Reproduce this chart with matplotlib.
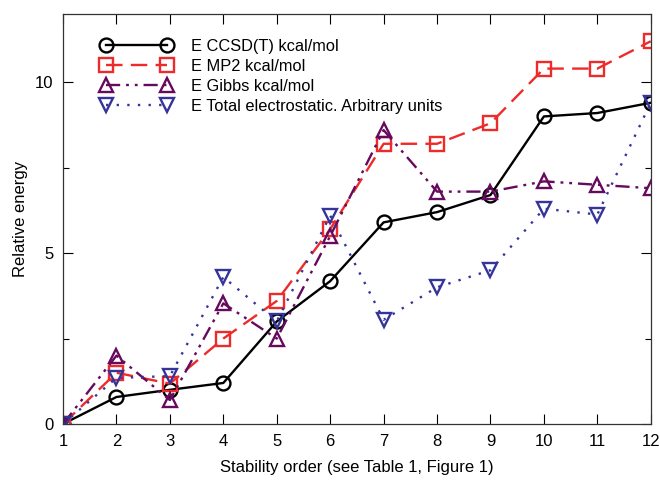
import matplotlib
matplotlib.use("Agg")
import matplotlib.pyplot as plt
from matplotlib.ticker import MultipleLocator

plt.rcParams['font.family'] = ['Liberation Sans', 'DejaVu Sans']

order = list(range(1, 13))
ccsd = [0, 0.79, 1.0, 1.2, 3.0, 4.18, 5.9, 6.2, 6.7, 9.0, 9.1, 9.4]
mp2 = [0, 1.5, 1.18, 2.5, 3.6, 5.7, 8.2, 8.2, 8.8, 10.4, 10.4, 11.2]
gibbs = [0, 2.0, 0.7, 3.53, 2.5, 5.5, 8.6, 6.8, 6.8, 7.1, 7.0, 6.9]
elec = [0, 1.35, 1.4, 4.3, 3.0, 6.1, 3.05, 4.0, 4.5, 6.3, 6.13, 9.4]

labels = ["E CCSD(T) kcal/mol", "E MP2 kcal/mol", "E Gibbs kcal/mol",
          "E Total electrostatic. Arbitrary units"]

fig = plt.figure(figsize=(6.6, 4.8), dpi=100)
ax = fig.add_axes([0.0955, 0.1167, 0.8905, 0.8543])

ax.plot(order, ccsd, color='black', lw=1.7, ls='-', marker='o', ms=10,
        mfc='none', mew=1.7, label=labels[0])
ax.plot(order, mp2, color='#ee2b2b', lw=1.7, ls=(0, (7, 3.5)), marker='s', ms=9.5,
        mfc='none', mew=1.7, label=labels[1])
ax.plot(order, gibbs, color='#660a5e', lw=1.7, ls=(0, (6, 2.5, 1.2, 2.5, 1.2, 2.5)),
        marker='^', ms=10, mfc='none', mew=1.7, label=labels[2])
ax.plot(order, elec, color='#34349a', lw=1.7, ls=(0, (1, 3.5)), marker='v', ms=10,
        mfc='none', mew=1.7, label=labels[3])

ax.set_xlim(1, 12)
ax.set_ylim(0, 12)
ax.set_xticks(order)
ax.set_yticks([0, 5, 10])
ax.yaxis.set_minor_locator(MultipleLocator(2.5))
ax.tick_params(which='both', direction='in', top=True, right=True,
               labelsize=12, pad=7)
ax.tick_params(which='major', length=7, width=0.8)
ax.tick_params(which='minor', length=4.5, width=0.8)
for s in ax.spines.values():
    s.set_linewidth(0.9)
    s.set_color('#333333')

ax.set_xlabel("Stability order (see Table 1, Figure 1)", fontsize=12, labelpad=8)
ax.set_ylabel("Relative energy", fontsize=12, labelpad=5)

ax.legend(loc='upper left', frameon=False, fontsize=11.8, handlelength=4.3,
          numpoints=2, labelspacing=0.3, borderaxespad=0.0, handletextpad=1.2,
          bbox_to_anchor=(0.0535, 0.955))

fig.savefig("out.png", dpi=100)
